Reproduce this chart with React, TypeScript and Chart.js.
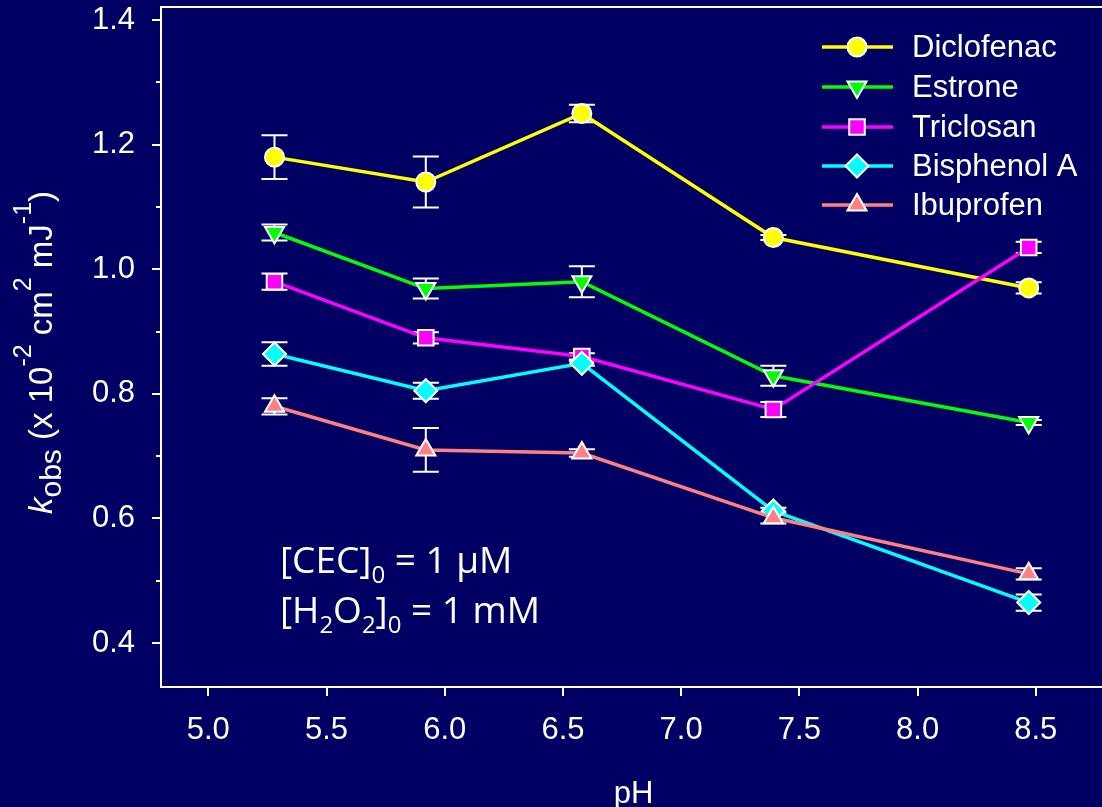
import React, { useEffect, useRef } from 'react';
import { Chart, registerables } from 'chart.js';

Chart.register(...registerables);

// ---- data ----
const PH = [5.28, 5.92, 6.58, 7.39, 8.47];
const SERIES_NAMES = ['Diclofenac', 'Estrone', 'Triclosan', 'Bisphenol A', 'Ibuprofen'];
const DICLOFENAC = [1.18, 1.14, 1.25, 1.051, 0.97];
const DICLOFENAC_ERR = [0.035, 0.041, 0.014, 0.004, 0.009];
const ESTRONE = [1.059, 0.969, 0.98, 0.829, 0.754];
const ESTRONE_ERR = [0.013, 0.016, 0.025, 0.016, 0.004];
const TRICLOSAN = [0.98, 0.89, 0.86, 0.775, 1.035];
const TRICLOSAN_ERR = [0.013, 0.009, 0.005, 0.012, 0.009];
const BISPHENOL_A = [0.864, 0.805, 0.849, 0.612, 0.465];
const BISPHENOL_A_ERR = [0.019, 0.013, 0.004, 0.005, 0.013];
const IBUPROFEN = [0.78, 0.71, 0.705, 0.601, 0.511];
const IBUPROFEN_ERR = [0.013, 0.035, 0.006, 0.009, 0.009];

const SERIES_VALUES = [DICLOFENAC, ESTRONE, TRICLOSAN, BISPHENOL_A, IBUPROFEN];
const SERIES_ERRS = [DICLOFENAC_ERR, ESTRONE_ERR, TRICLOSAN_ERR, BISPHENOL_A_ERR, IBUPROFEN_ERR];

const X_TICKS = [5.0, 5.5, 6.0, 6.5, 7.0, 7.5, 8.0, 8.5];
const Y_TICKS = [0.4, 0.6, 0.8, 1.0, 1.2, 1.4];
const Y_MINOR = [0.5, 0.7, 0.9, 1.1, 1.3];

const COLORS = ['#FFFF00', '#00FF00', '#FF00FF', '#00FFFF', '#FF8080'];
const MARKERS = ['circle', 'triangle', 'rect', 'rectRot', 'triangle'];
const ROTATIONS = [0, 180, 0, 0, 0];
const RADII = [9.5, 11, 11, 11.5, 11];

const BG = '#000064';
const FONT = "'Liberation Sans', Arial, sans-serif";
const ANNOT_FONT = "'Open Sans', Lato, sans-serif";

type Seg = { text: string; size: number; italic?: boolean; dy?: number; family?: string };

function drawSegs(ctx: CanvasRenderingContext2D, segs: Seg[], x: number, y: number) {
  let cx = x;
  for (const s of segs) {
    ctx.font = `${s.italic ? 'italic ' : ''}${s.size}px ${s.family || FONT}`;
    ctx.fillText(s.text, cx, y + (s.dy || 0));
    cx += ctx.measureText(s.text).width;
  }
}

function drawMarker(ctx: CanvasRenderingContext2D, style: string, rotDeg: number, x: number, y: number, r: number) {
  let rad = (rotDeg * Math.PI) / 180;
  ctx.beginPath();
  if (style === 'circle') {
    ctx.arc(x, y, r, 0, Math.PI * 2);
  } else if (style === 'triangle') {
    ctx.moveTo(x + Math.sin(rad) * r, y - Math.cos(rad) * r);
    rad += (2 * Math.PI) / 3;
    ctx.lineTo(x + Math.sin(rad) * r, y - Math.cos(rad) * r);
    rad += (2 * Math.PI) / 3;
    ctx.lineTo(x + Math.sin(rad) * r, y - Math.cos(rad) * r);
  } else if (style === 'rect') {
    const s = Math.SQRT1_2 * r;
    ctx.rect(x - s, y - s, 2 * s, 2 * s);
  } else if (style === 'rectRot') {
    ctx.moveTo(x - r, y);
    ctx.lineTo(x, y - r);
    ctx.lineTo(x + r, y);
    ctx.lineTo(x, y + r);
  }
  ctx.closePath();
  ctx.fill();
  ctx.stroke();
}

const decorPlugin = {
  id: 'decor',
  beforeDraw(chart: any) {
    const ctx = chart.ctx as CanvasRenderingContext2D;
    ctx.save();
    ctx.fillStyle = BG;
    ctx.fillRect(0, 0, chart.width, chart.height);
    ctx.restore();
  },
  beforeDatasetsDraw(chart: any) {
    const ctx = chart.ctx as CanvasRenderingContext2D;
    const xs = chart.scales.x;
    const ys = chart.scales.y;
    ctx.save();
    ctx.strokeStyle = '#FFFFFF';
    ctx.lineWidth = 2;
    SERIES_VALUES.forEach((vals, si) => {
      vals.forEach((v, i) => {
        const e = SERIES_ERRS[si][i];
        const px = xs.getPixelForValue(PH[i]);
        const y1 = ys.getPixelForValue(v + e);
        const y2 = ys.getPixelForValue(v - e);
        ctx.beginPath();
        ctx.moveTo(px, y1);
        ctx.lineTo(px, y2);
        ctx.moveTo(px - 13, y1);
        ctx.lineTo(px + 13, y1);
        ctx.moveTo(px - 13, y2);
        ctx.lineTo(px + 13, y2);
        ctx.stroke();
      });
    });
    ctx.restore();
  },
  afterDraw(chart: any) {
    const ctx = chart.ctx as CanvasRenderingContext2D;
    const area = chart.chartArea;
    const ys = chart.scales.y;
    ctx.save();
    // top border
    ctx.strokeStyle = '#FFFFFF';
    ctx.lineWidth = 2;
    ctx.beginPath();
    ctx.moveTo(area.left, area.top);
    ctx.lineTo(area.right, area.top);
    ctx.stroke();
    // minor y ticks
    Y_MINOR.forEach((v) => {
      const py = Math.round(ys.getPixelForValue(v));
      ctx.beginPath();
      ctx.moveTo(area.left - 5, py);
      ctx.lineTo(area.left, py);
      ctx.stroke();
    });

    ctx.fillStyle = '#FFFFFF';
    ctx.textBaseline = 'alphabetic';
    ctx.textAlign = 'left';

    // y title (rotated)
    ctx.save();
    ctx.translate(52, 514);
    ctx.rotate(-Math.PI / 2);
    drawSegs(ctx, [
      { text: 'k', size: 33, italic: true },
      { text: 'obs', size: 30, dy: 9 },
      { text: ' (x 10', size: 33 },
      { text: '-2', size: 25, dy: -21 },
      { text: ' cm', size: 33 },
      { text: '2', size: 25, dy: -21 },
      { text: ' mJ', size: 33 },
      { text: '-1', size: 25, dy: -21 },
      { text: ')', size: 33 },
    ], 0, 0);
    ctx.restore();

    // x title
    ctx.font = `31px ${FONT}`;
    ctx.textAlign = 'center';
    ctx.fillText('pH', (area.left + area.right) / 2 + 2, 803);
    ctx.textAlign = 'left';

    // annotation
    drawSegs(ctx, [
      { text: '[CEC]', size: 37, family: ANNOT_FONT },
      { text: '0', size: 24, dy: 10, family: ANNOT_FONT },
      { text: ' = 1 \u00B5M', size: 37, family: ANNOT_FONT },
    ], 280, 573);
    drawSegs(ctx, [
      { text: '[H', size: 37, family: ANNOT_FONT },
      { text: '2', size: 24, dy: 10, family: ANNOT_FONT },
      { text: 'O', size: 37, family: ANNOT_FONT },
      { text: '2', size: 24, dy: 10, family: ANNOT_FONT },
      { text: ']', size: 37, family: ANNOT_FONT },
      { text: '0', size: 24, dy: 10, family: ANNOT_FONT },
      { text: ' = 1 mM', size: 37, family: ANNOT_FONT },
    ], 280, 623);

    // legend
    const rowY = [47, 87, 127, 166, 205];
    SERIES_NAMES.forEach((name, i) => {
      const y = rowY[i];
      ctx.strokeStyle = COLORS[i];
      ctx.lineWidth = 3.5;
      ctx.beginPath();
      ctx.moveTo(822, y);
      ctx.lineTo(893, y);
      ctx.stroke();
      ctx.fillStyle = COLORS[i];
      ctx.strokeStyle = '#FFFFFF';
      ctx.lineWidth = 2;
      drawMarker(ctx, MARKERS[i], ROTATIONS[i], 857, y, RADII[i]);
      ctx.fillStyle = '#FFFFFF';
      ctx.font = `31px ${FONT}`;
      ctx.textBaseline = 'middle';
      ctx.fillText(name, 912, y + 1);
    });
    ctx.restore();
  },
};

export default function App() {
  const canvasRef = useRef<HTMLCanvasElement | null>(null);

  useEffect(() => {
    const canvas = canvasRef.current;
    if (!canvas) return;
    const datasets = SERIES_NAMES.map((name, si) => ({
      label: name,
      data: PH.map((x, i) => ({ x, y: SERIES_VALUES[si][i] })),
      borderColor: COLORS[si],
      backgroundColor: COLORS[si],
      borderWidth: 3.5,
      pointStyle: MARKERS[si] as any,
      pointRotation: ROTATIONS[si],
      pointRadius: RADII[si],
      pointBackgroundColor: COLORS[si],
      pointBorderColor: '#FFFFFF',
      pointBorderWidth: 2,
      tension: 0,
      fill: false,
      order: SERIES_NAMES.length - si,
    }));

    const chart = new Chart(canvas, {
      type: 'line',
      data: { datasets },
      plugins: [decorPlugin],
      options: {
        animation: false,
        responsive: true,
        maintainAspectRatio: false,
        layout: { autoPadding: false, padding: { top: 7, right: 0, bottom: 0, left: 0 } },
        plugins: {
          legend: { display: false },
          tooltip: { enabled: false },
          title: { display: false },
        },
        scales: {
          x: {
            type: 'linear',
            min: 4.8,
            max: 8.78,
            afterBuildTicks: (scale: any) => {
              scale.ticks = X_TICKS.map((v) => ({ value: v }));
            },
            afterFit: (scale: any) => {
              scale.height = 120;
              scale.paddingLeft = 0;
              scale.paddingRight = 0;
            },
            ticks: {
              color: '#FFFFFF',
              font: { family: FONT, size: 31 },
              padding: 16,
              maxRotation: 0,
              autoSkip: false,
              callback: (v: any) => Number(v).toFixed(1),
            },
            grid: {
              drawOnChartArea: false,
              drawTicks: true,
              tickLength: 9,
              color: '#FFFFFF',
              lineWidth: 2,
            },
            border: { display: true, color: '#FFFFFF', width: 2 },
            title: { display: false },
          },
          y: {
            type: 'linear',
            min: 0.3294,
            max: 1.421,
            afterBuildTicks: (scale: any) => {
              scale.ticks = Y_TICKS.map((v) => ({ value: v }));
            },
            afterFit: (scale: any) => {
              scale.width = 161;
              scale.paddingTop = 0;
              scale.paddingBottom = 0;
            },
            ticks: {
              color: '#FFFFFF',
              font: { family: FONT, size: 31 },
              padding: 17,
              autoSkip: false,
              callback: (v: any) => Number(v).toFixed(1),
            },
            grid: {
              drawOnChartArea: false,
              drawTicks: true,
              tickLength: 9,
              color: '#FFFFFF',
              lineWidth: 2,
            },
            border: { display: true, color: '#FFFFFF', width: 2 },
            title: { display: false },
          },
        },
      },
    });
    return () => chart.destroy();
  }, []);

  return (
    <div style={{ position: 'fixed', left: 0, top: 0, width: 1102, height: 807, background: BG }}>
      <canvas ref={canvasRef} />
    </div>
  );
}
